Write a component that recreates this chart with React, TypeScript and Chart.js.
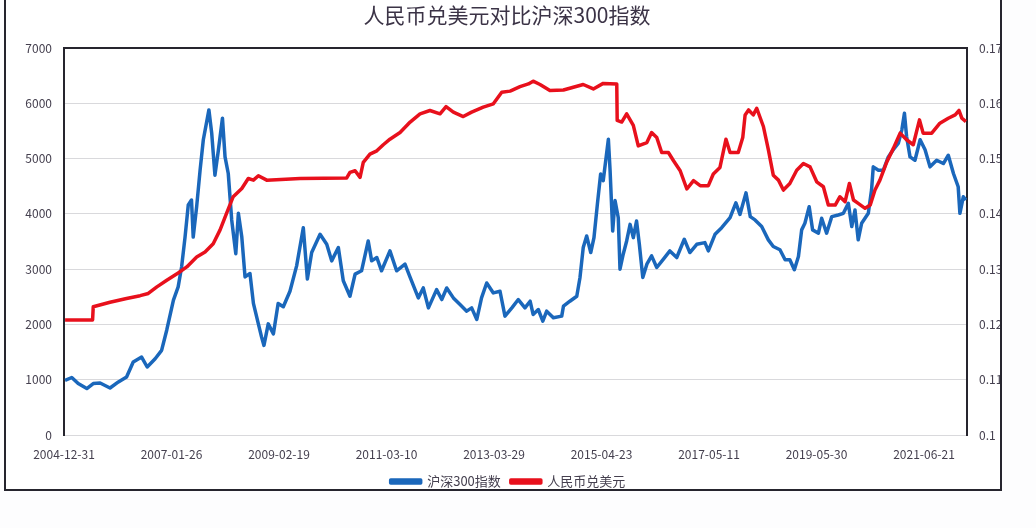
import React, { useEffect, useRef } from 'react';
import { Chart, registerables } from 'chart.js';

Chart.register(...registerables);

const titleText = '人民币兑美元对比沪深300指数';
const csiLabel = '沪深300指数';
const cnyLabel = '人民币兑美元';

const dateTicks = [
  '2004-12-31', '2007-01-26', '2009-02-19', '2011-03-10', '2013-03-29',
  '2015-04-23', '2017-05-11', '2019-05-30', '2021-06-21',
];
const dateTickStep = 500;
const lastDay = 4200;

const leftTicks = [0, 1000, 2000, 3000, 4000, 5000, 6000, 7000];
const rightTicks = [0.1, 0.11, 0.12, 0.13, 0.14, 0.15, 0.16, 0.17];

const csiDay = [
  5, 36, 66, 106, 136, 168, 214, 253, 291, 322, 361, 387, 424, 454, 478, 509, 531, 547, 563, 578,
  593, 601, 617, 633, 648, 674, 687, 702, 718, 737, 749, 764, 780, 799, 811, 827, 842, 865, 881, 904,
  919, 930, 950, 974, 996, 1020, 1051, 1082, 1113, 1132, 1152, 1191, 1222, 1245, 1276, 1299, 1330, 1354, 1384, 1415,
  1431, 1455, 1477, 1516, 1547, 1586, 1610, 1648, 1671, 1695, 1733, 1757, 1780, 1811, 1842, 1873, 1896, 1920, 1942, 1966,
  1997, 2028, 2051, 2083, 2113, 2144, 2168, 2182, 2206, 2227, 2245, 2276, 2315, 2323, 2353, 2385, 2400, 2415, 2431, 2450,
  2465, 2481, 2496, 2508, 2532, 2540, 2552, 2563, 2578, 2586, 2601, 2617, 2633, 2648, 2663, 2676, 2692, 2711, 2733, 2757,
  2788, 2818, 2850, 2885, 2911, 2943, 2981, 2997, 3028, 3059, 3098, 3125, 3144, 3172, 3192, 3214, 3245, 3276, 3299, 3330,
  3354, 3376, 3397, 3416, 3431, 3446, 3466, 3482, 3509, 3524, 3547, 3571, 3601, 3625, 3648, 3664, 3679, 3694, 3710, 3741,
  3756, 3764, 3788, 3811, 3834, 3857, 3881, 3897, 3909, 3919, 3935, 3958, 3982, 4005, 4028, 4059, 4090, 4113, 4137, 4159,
  4167, 4183, 4195,
];
const csiValue = [
  990, 1040, 930, 840, 930, 940, 850, 960, 1050, 1320, 1410, 1230, 1380, 1530, 1900, 2440, 2680, 3040, 3580, 4160,
  4250, 3580, 4130, 4790, 5340, 5880, 5460, 4700, 5150, 5730, 5030, 4730, 3890, 3280, 4010, 3580, 2860, 2920, 2380, 2010,
  1770, 1620, 2010, 1830, 2380, 2320, 2600, 3060, 3750, 2820, 3300, 3630, 3450, 3150, 3390, 2790, 2510, 2910, 2970, 3510,
  3150, 3210, 2970, 3330, 2970, 3090, 2850, 2480, 2660, 2300, 2630, 2450, 2660, 2480, 2360, 2240, 2300, 2090, 2480, 2750,
  2570, 2600, 2150, 2300, 2450, 2300, 2420, 2180, 2270, 2060, 2240, 2120, 2150, 2330, 2420, 2510, 2850, 3390, 3600, 3300,
  3570, 4180, 4720, 4600, 5350, 4780, 3690, 4240, 3930, 3000, 3270, 3510, 3810, 3570, 3870, 3450, 2850, 3090, 3240, 3030,
  3180, 3330, 3210, 3540, 3300, 3450, 3480, 3330, 3630, 3750, 3930, 4200, 3990, 4380, 3950, 3890, 3770, 3530, 3410, 3350,
  3170, 3170, 2990, 3230, 3710, 3830, 4130, 3710, 3650, 3920, 3650, 3950, 3980, 4010, 4190, 3770, 4070, 3530, 3830, 4010,
  4430, 4850, 4790, 4790, 5030, 5160, 5280, 5520, 5820, 5400, 5030, 4970, 5340, 5160, 4850, 4970, 4910, 5060, 4730, 4490,
  4010, 4310, 4250,
];

const cnyDay = [
  5, 133, 136, 214, 291, 354, 392, 432, 478, 531, 571, 617, 656, 694, 726, 756, 787, 827, 857, 881,
  904, 943, 1098, 1315, 1330, 1354, 1377, 1392, 1423, 1455, 1485, 1516, 1563, 1610, 1656, 1702, 1749, 1777, 1811, 1857,
  1896, 1950, 1997, 2036, 2075, 2121, 2160, 2182, 2214, 2260, 2323, 2369, 2415, 2462, 2508, 2571, 2573, 2594, 2617, 2648,
  2671, 2711, 2733, 2757, 2780, 2811, 2835, 2866, 2897, 2928, 2959, 2997, 3020, 3051, 3079, 3098, 3136, 3157, 3168, 3184,
  3206, 3222, 3253, 3276, 3299, 3323, 3346, 3376, 3408, 3439, 3470, 3501, 3532, 3555, 3587, 3609, 3633, 3653, 3672, 3694,
  3726, 3750, 3772, 3795, 3827, 3857, 3889, 3919, 3950, 3979, 3996, 4036, 4074, 4113, 4145, 4163, 4176, 4195,
];
const cnyValue = [
  0.1208, 0.1208, 0.1232, 0.1240, 0.1247, 0.1252, 0.1256, 0.1268, 0.1280, 0.1293, 0.1304, 0.1322, 0.1331, 0.1346, 0.1371, 0.1401, 0.1431, 0.1446, 0.1464, 0.1461,
  0.1469, 0.1461, 0.1464, 0.1465, 0.1475, 0.1478, 0.1466, 0.1493, 0.1508, 0.1514, 0.1525, 0.1535, 0.1547, 0.1566, 0.1581, 0.1587, 0.1581, 0.1594, 0.1584, 0.1576,
  0.1584, 0.1593, 0.1599, 0.1620, 0.1622, 0.1630, 0.1635, 0.1640, 0.1634, 0.1623, 0.1624, 0.1629, 0.1634, 0.1626, 0.1636, 0.1635, 0.1569, 0.1566, 0.1581, 0.1560,
  0.1523, 0.1529, 0.1547, 0.1538, 0.1511, 0.1511, 0.1496, 0.1478, 0.1445, 0.1460, 0.1451, 0.1451, 0.1472, 0.1484, 0.1535, 0.1511, 0.1511, 0.1538, 0.1579, 0.1588,
  0.1579, 0.1591, 0.1558, 0.1516, 0.1470, 0.1461, 0.1443, 0.1455, 0.1479, 0.1491, 0.1485, 0.1458, 0.1449, 0.1416, 0.1416, 0.1431, 0.1422, 0.1455, 0.1425, 0.1419,
  0.1410, 0.1416, 0.1443, 0.1461, 0.1494, 0.1518, 0.1546, 0.1534, 0.1525, 0.1570, 0.1546, 0.1546, 0.1564, 0.1573, 0.1579, 0.1587, 0.1573, 0.1567,
];

const FONT = '"Noto Sans CJK SC", "Noto Sans", sans-serif';
const TEXT_COLOR = '#45404f';
const AXIS_COLOR = '#26252e';
const GRID_COLOR = '#d9d9dc';
const BLUE = '#1a67bb';
const RED = '#e8101c';

export default function App() {
  const canvasRef = useRef<HTMLCanvasElement | null>(null);

  useEffect(() => {
    const canvas = canvasRef.current;
    if (!canvas) return;

    const titlePlugin = {
      id: 'customTitle',
      afterDraw(chart: any) {
        const ctx = chart.ctx;
        ctx.save();
        ctx.font = `21px ${FONT}`;
        ctx.fillStyle = '#3b3346';
        ctx.textAlign = 'center';
        ctx.textBaseline = 'middle';
        ctx.fillText(titleText, 507, 15);
        ctx.restore();
      },
    };

    const chart = new Chart(canvas, {
      type: 'line',
      data: {
        datasets: [
          {
            label: csiLabel,
            data: csiDay.map((d, i) => ({ x: d, y: csiValue[i] })),
            borderColor: BLUE,
            backgroundColor: BLUE,
            borderWidth: 3.5,
            pointRadius: 0,
            tension: 0,
            borderJoinStyle: 'round',
            yAxisID: 'y',
            order: 1,
          },
          {
            label: cnyLabel,
            data: cnyDay.map((d, i) => ({ x: d, y: cnyValue[i] })),
            borderColor: RED,
            backgroundColor: RED,
            borderWidth: 3.5,
            pointRadius: 0,
            tension: 0,
            borderJoinStyle: 'round',
            yAxisID: 'y1',
            order: 0,
          },
        ],
      },
      options: {
        animation: false,
        responsive: false,
        devicePixelRatio: 1,
        layout: { padding: { left: 10, right: 30, top: 48, bottom: 30 } },
        plugins: {
          title: { display: false },
          tooltip: { enabled: false },
          legend: {
            position: 'bottom',
            labels: {
              boxWidth: 30,
              boxHeight: 3,
              padding: 10,
              color: TEXT_COLOR,
              font: { family: FONT, size: 13 },
              sort: (a: any, b: any) => a.datasetIndex - b.datasetIndex,
            },
          },
        },
        scales: {
          x: {
            type: 'linear',
            min: 0,
            max: lastDay,
            grid: { display: false, drawTicks: false },
            border: { color: GRID_COLOR, width: 1 },
            afterBuildTicks: (scale: any) => {
              scale.ticks = dateTicks.map((_, i) => ({ value: i * dateTickStep }));
            },
            ticks: {
              autoSkip: false,
              maxRotation: 0,
              minRotation: 0,
              padding: 12,
              color: TEXT_COLOR,
              font: { family: FONT, size: 12 },
              callback: (_v: any, i: number) => dateTicks[i],
            },
            afterFit: (scale: any) => {
              scale.height = 30;
            },
          },
          y: {
            type: 'linear',
            position: 'left',
            min: 0,
            max: 7000,
            afterBuildTicks: (scale: any) => {
              scale.ticks = leftTicks.map((v) => ({ value: v }));
            },
            ticks: {
              padding: 12,
              color: TEXT_COLOR,
              font: { family: FONT, size: 12 },
              callback: (v: any) => String(v),
            },
            grid: {
              drawTicks: false,
              color: (c: any) => (c.tick && c.tick.value === 7000 ? AXIS_COLOR : GRID_COLOR),
              lineWidth: (c: any) => (c.tick && c.tick.value === 7000 ? 2 : 1),
            },
            border: { color: AXIS_COLOR, width: 2 },
            afterFit: (scale: any) => {
              scale.width = 54;
            },
          },
          y1: {
            type: 'linear',
            position: 'right',
            min: 0.1,
            max: 0.17,
            afterBuildTicks: (scale: any) => {
              scale.ticks = rightTicks.map((v) => ({ value: v }));
            },
            ticks: {
              padding: 12,
              color: TEXT_COLOR,
              font: { family: FONT, size: 12 },
              callback: (_v: any, i: number) => String(rightTicks[i]),
            },
            grid: { display: false, drawTicks: false },
            border: { color: AXIS_COLOR, width: 2 },
            afterFit: (scale: any) => {
              scale.width = 39;
            },
          },
        },
      },
      plugins: [titlePlugin],
    } as any);

    return () => {
      chart.destroy();
    };
  }, []);

  return (
    <div
      style={{
        position: 'fixed',
        left: 0,
        top: 0,
        width: 1036,
        height: 528,
        background: '#fdfdfe',
        overflow: 'hidden',
      }}
    >
      <div
        style={{
          position: 'absolute',
          left: 4,
          top: -6,
          width: 998,
          height: 497,
          border: `2px solid ${AXIS_COLOR}`,
          boxSizing: 'border-box',
          overflow: 'hidden',
          background: '#ffffff',
        }}
      >
        <canvas
          ref={canvasRef}
          width={1036}
          height={528}
          style={{ position: 'absolute', left: -6, top: 4, width: 1036, height: 528 }}
        />
      </div>
    </div>
  );
}
